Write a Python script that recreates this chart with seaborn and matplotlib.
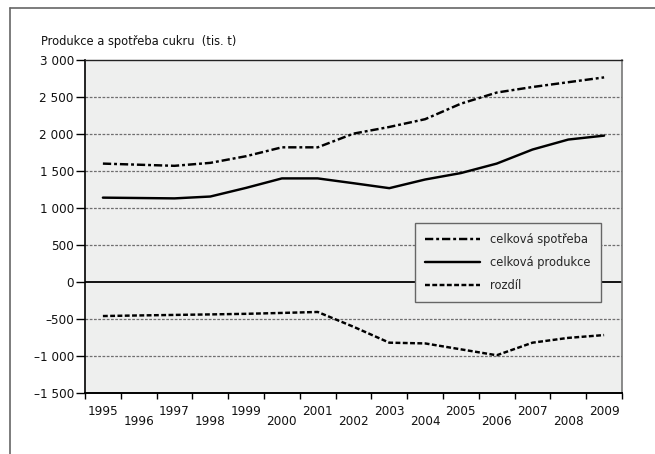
import matplotlib
matplotlib.use("Agg")
import matplotlib.pyplot as plt
from matplotlib.lines import Line2D
from matplotlib.ticker import FixedLocator, FuncFormatter
from matplotlib.transforms import ScaledTranslation
import numpy as np
import pandas as pd
import seaborn as sns

years = list(range(1995, 2010))
spotreba = [1600, 1585, 1570, 1610, 1700, 1820, 1820, 2005, 2095, 2200,
            2410, 2560, 2635, 2700, 2765]
produkce = [1140, 1135, 1130, 1155, 1272, 1400, 1400, 1335, 1268, 1385,
            1472, 1600, 1790, 1925, 1978]
rozdil = [-460, -452, -445, -438, -430, -418, -405, -605, -820, -830,
          -910, -990, -820, -755, -717]
series_names = ["celková spotřeba", "celková produkce", "rozdíl"]
y_ticks = [-1500, -1000, -500, 0, 500, 1000, 1500, 2000, 2500, 3000]
title_text = "Produkce a spotřeba cukru  (tis. t)"

df = pd.DataFrame({
    "rok": years * 3,
    "hodnota": spotreba + produkce + rozdil,
    "rada": [series_names[0]] * len(years) + [series_names[1]] * len(years)
            + [series_names[2]] * len(years),
})

sns.set_theme(style="white")
plt.rcParams["font.family"] = ["DejaVu Sans"]
plt.rcParams["font.stretch"] = "condensed"
FS_TICK = 9.6
FS_TEXT = 9.2

W, H = 655, 454
fig = plt.figure(figsize=(W / 100, H / 100), dpi=100)
fig.patch.set_facecolor("white")
ax = fig.add_axes([85 / W, 1 - 393 / H, (622 - 85) / W, (393 - 60) / H])
bg = "#eeefee"
ax.set_facecolor(bg)

# horizontal dashed grid and solid zero line
for v in y_ticks:
    if v == 0:
        ax.axhline(v, color="black", lw=1.3, zorder=1)
    elif v not in (3000, -1500):
        ax.axhline(v, color="#6f6f6f", lw=0.9, ls=(0, (2.2, 1.2)), zorder=1)

dashes = {series_names[0]: (3.4, 1.2, 1.2, 1.2),
          series_names[1]: "",
          series_names[2]: (2.0, 1.0)}
sns.lineplot(data=df, x="rok", y="hodnota", hue="rada", style="rada",
             hue_order=series_names, style_order=series_names,
             palette={n: "black" for n in series_names}, dashes=dashes,
             linewidth=1.75, ax=ax, legend=True, zorder=3)

ax.set_xlim(years[0] - 0.5, years[-1] + 0.5)
ax.set_ylim(-1500, 3000)
ax.set_xlabel("")
ax.set_ylabel("")

# year labels sit between the boundary ticks, every other one lowered
ax.xaxis.set_major_locator(FixedLocator(years))
ax.set_xticklabels([str(y) for y in years], fontsize=FS_TICK)
ax.xaxis.set_minor_locator(FixedLocator(np.arange(years[0] - 0.5, years[-1] + 1, 1.0)))
ax.tick_params(axis="x", which="major", length=0, pad=8.5)
ax.tick_params(axis="x", which="minor", length=4.5, width=1, color="black",
               direction="out", bottom=True)
for i, lab in enumerate(ax.get_xticklabels()):
    if i % 2 == 1:
        lab.set_transform(lab.get_transform()
                          + ScaledTranslation(0, -10 / 100, fig.dpi_scale_trans))

ax.set_yticks(y_ticks)
def fmt(v, pos):
    s = f"{abs(int(v)):,}".replace(",", " ")
    return ("–" + s) if v < 0 else s
ax.yaxis.set_major_formatter(FuncFormatter(fmt))
ax.tick_params(axis="y", length=6.5, width=1, color="black", direction="out",
               left=True, labelsize=FS_TICK, pad=1.5)
for lab in ax.get_xticklabels() + ax.get_yticklabels():
    lab.set_color("#111111")

ax.spines["left"].set_color("black")
ax.spines["left"].set_linewidth(1.2)
ax.spines["bottom"].set_color("black")
ax.spines["bottom"].set_linewidth(1.4)
ax.spines["top"].set_color("#222222")
ax.spines["top"].set_linewidth(1.0)
ax.spines["right"].set_color("#777777")
ax.spines["right"].set_linewidth(1.2)

leg = ax.legend(loc="upper right", bbox_to_anchor=(601 / W, 1 - 223 / H),
                bbox_transform=fig.transFigure, frameon=True, fancybox=False,
                framealpha=1, facecolor=bg, edgecolor="#666666",
                fontsize=FS_TEXT, handlelength=4.3, handletextpad=0.8,
                labelspacing=0.78, borderpad=0.8, borderaxespad=0)
leg.get_frame().set_linewidth(1.0)
leg.set_zorder(5)

fig.text(41 / W, 1 - 42 / H, title_text, fontsize=FS_TEXT, ha="left",
         va="center", color="#111111")

# outer frame of the panel
fig.add_artist(Line2D([10 / W, 10 / W], [0, 1 - 8 / H], transform=fig.transFigure,
                      color="#666666", lw=1.2))
fig.add_artist(Line2D([10 / W, 1], [1 - 8 / H, 1 - 8 / H], transform=fig.transFigure,
                      color="#666666", lw=1.2))

fig.savefig("out.png", dpi=100)
